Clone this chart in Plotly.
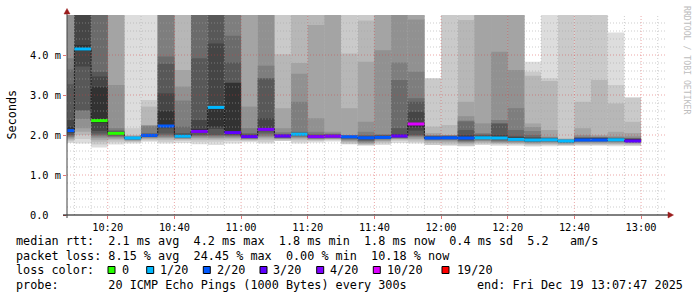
import plotly.graph_objects as go
from datetime import datetime, timedelta

DAY = "2025-12-19"
# end time of each 5-minute step (bar covers the 5 minutes before it)
col_end = ["10:10", "10:15", "10:20", "10:25", "10:30", "10:35", "10:40", "10:45", "10:50",
           "10:55", "11:00", "11:05", "11:10", "11:15", "11:20", "11:25", "11:30", "11:35",
           "11:40", "11:45", "11:50", "11:55", "12:00", "12:05", "12:10", "12:15", "12:20",
           "12:25", "12:30", "12:35", "12:40", "12:45", "12:50", "12:55", "13:00"]

# median rtt (ms) per step
median = [2.11, 4.15, 2.36, 2.04, 1.925, 1.99, 2.225, 1.97, 2.09, 2.69, 2.06, 1.96, 2.14,
          1.975, 2.02, 1.96, 1.97, 1.955, 1.93, 1.94, 1.975, 2.275, 1.925, 1.93, 1.925,
          1.93, 1.925, 1.89, 1.875, 1.88, 1.85, 1.875, 1.875, 1.88, 1.85]

# lost pings (out of 20) per step
loss = [2, 1, 0, 0, 1, 2, 2, 1, 4, 1, 3, 3, 4, 3, 1, 4, 4, 2, 2, 2, 3, 10, 2, 2, 2,
        1, 1, 1, 1, 1, 1, 2, 2, 1, 3]

# sorted ping times (ms) of each step, ping 1 .. ping 20 (None = lost)
r1010 = [1.80, 1.84, 1.87, 1.90, 1.93, 1.95, 1.98, 2.00, 2.05, 2.08, 2.20, 2.375, 3.27, 3.64, 3.92, 5.5, 5.5, 5.5, 5.5, 5.5]
r1015 = [1.79, 1.90, 2.00, 2.08, 2.17, 2.40, 2.60, 2.625, 3.71, 4.10, 4.25, 5.5, 5.5, 5.5, 5.5, 5.5, 5.5, 5.5, 5.5, 5.5]
r1020 = [1.69, 1.76, 1.83, 1.88, 1.93, 1.97, 2.00, 2.04, 2.10, 2.30, 3.20, 3.46, 3.58, 5.5, 5.5, 5.5, 5.5, 5.5, 5.5, 5.5]
r1025 = [1.76, 1.82, 1.87, 1.90, 1.93, 1.95, 1.97, 1.99, 2.00, 2.02, 2.05, 2.07, 2.09, 2.12, 2.17, 3.25, 5.5, 5.5, 5.5, 5.5]
r1030 = [1.79, 1.82, 1.84, 1.86, 1.87, 1.88, 1.89, 1.90, 1.91, 1.92, 1.93, 1.935, 1.94, 1.95, 1.96, 1.97, 1.98, 2.00, 2.17, 5.5]
r1035 = [1.83, 1.86, 1.89, 1.91, 1.93, 1.94, 1.95, 1.96, 1.97, 1.98, 2.00, 2.01, 2.02, 2.05, 2.22, 2.24, 2.25, 2.71, 2.875, 5.5]
r1040 = [1.79, 1.83, 1.88, 1.92, 1.94, 1.96, 2.00, 2.04, 2.17, 2.20, 2.60, 3.04, 3.78, 3.96, 5.5, 5.5, 5.5, 5.5, 5.5, 5.5]
r1045 = [1.80, 1.85, 1.88, 1.90, 1.91, 1.92, 1.93, 1.94, 1.95, 1.96, 2.00, 2.02, 2.05, 2.21, 2.86, 3.21, 3.625, 5.5, 5.5, 5.5]
r1050 = [1.77, 1.83, 1.88, 1.92, 1.94, 1.97, 1.99, 2.00, 2.05, 2.07, 2.15, 2.375, 3.92, 5.5, 5.5, 5.5, 5.5, 5.5, 5.5, 5.5]
r1055 = [1.75, 1.83, 1.88, 1.91, 1.93, 1.96, 1.99, 2.00, 2.15, 2.21, 2.72, 4.29, 5.5, 5.5, 5.5, 5.5, 5.5, 5.5, 5.5, 5.5]
r1100 = [1.79, 1.85, 1.89, 1.92, 1.94, 1.96, 1.98, 2.00, 2.02, 2.04, 3.30, 3.31, 3.81, 4.48, 5.5, 5.5, 5.5, 5.5, 5.5, 5.5]
r1105 = [1.82, 1.85, 1.87, 1.89, 1.90, 1.91, 1.92, 1.93, 1.94, 1.95, 1.98, 2.00, 2.02, 2.05, 2.17, 2.71, 5.5, 5.5, 5.5, 5.5]
r1110 = [1.79, 1.83, 1.88, 1.92, 1.95, 1.98, 2.02, 2.06, 2.10, 2.12, 2.17, 2.42, 3.41, 3.42, 3.73, 5.5, 5.5, 5.5, 5.5, 5.5]
r1115 = [None, 1.85, 1.88, 1.90, 1.91, 1.92, 1.93, 1.94, 1.95, 1.96, 1.99, 2.00, 2.01, 2.03, 2.07, 2.17, 2.67, 4.02, 5.5, None]
r1120 = [1.79, 1.84, 1.88, 1.91, 1.93, 1.95, 1.97, 1.99, 2.00, 2.01, 2.03, 2.04, 2.06, 2.08, 2.83, 3.53, 3.80, 5.5, 5.5, 5.5]
r1125 = [1.81, 1.85, 1.87, 1.89, 1.90, 1.91, 1.92, 1.93, 1.94, 1.95, 1.98, 1.99, 2.00, 2.03, 2.08, 2.42, 4.75, 5.5, 5.5, 5.5]
r1130 = [1.84, 1.87, 1.89, 1.90, 1.91, 1.92, 1.93, 1.94, 1.95, 1.96, 1.99, 2.00, 2.01, 2.02, 2.04, 2.08, 5.5, 5.5, 5.5, 5.5]
r1135 = [None, 1.77, 1.81, 1.84, 1.86, 1.88, 1.90, 1.92, 1.93, 1.94, 1.97, 1.975, 1.98, 1.985, 1.99, 2.00, 2.67, 4.04, 5.5, None]
r1140 = [None, 1.74, 1.76, 1.78, 1.80, 1.83, 1.85, 1.87, 1.90, 1.92, 1.95, 1.96, 1.98, 2.00, 2.08, 2.33, 3.83, 4.86, 5.5, None]
r1145 = [1.75, 1.79, 1.82, 1.85, 1.87, 1.89, 1.90, 1.91, 1.92, 1.93, 1.97, 1.98, 1.99, 2.00, 2.02, 4.12, 5.5, 5.5, 5.5, 5.5]
r1150 = [1.80, 1.85, 1.88, 1.90, 1.91, 1.92, 1.93, 1.94, 1.95, 1.96, 2.00, 2.02, 2.17, 3.375, 3.81, 5.5, 5.5, 5.5, 5.5, 5.5]
r1155 = [1.79, 1.82, 1.86, 1.90, 1.94, 1.96, 1.98, 2.00, 2.11, 2.20, 2.30, 2.58, 2.83, 2.92, 3.58, 4.89, 5.5, 5.5, 5.5, 5.5]
r1200 = [None, 1.75, 1.80, 1.84, 1.86, 1.88, 1.89, 1.90, 1.91, 1.92, 1.95, 1.96, 1.97, 1.98, 1.99, 2.00, 2.05, 2.21, 3.42, None]
r1205 = [None, 1.74, 1.79, 1.83, 1.86, 1.88, 1.89, 1.90, 1.91, 1.92, 1.95, 1.96, 1.97, 1.98, 1.99, 1.995, 2.00, 2.25, 5.5, None]
r1210 = [None, 1.72, 1.76, 1.79, 1.81, 1.83, 1.85, 1.87, 1.89, 1.91, 1.96, 2.00, 2.125, 2.34, 2.36, 2.47, 2.83, 4.875, 5.5, None]
r1215 = [1.75, 1.77, 1.80, 1.83, 1.85, 1.87, 1.89, 1.90, 1.91, 1.92, 1.95, 1.97, 2.00, 2.02, 2.05, 2.29, 5.5, 5.5, 5.5, 5.5]
r1220 = [1.73, 1.76, 1.78, 1.80, 1.82, 1.84, 1.86, 1.88, 1.90, 1.91, 1.96, 2.00, 2.28, 2.30, 2.375, 4.08, 5.5, 5.5, 5.5, 5.5]
r1225 = [1.73, 1.76, 1.78, 1.80, 1.82, 1.84, 1.85, 1.86, 1.87, 1.88, 1.93, 1.95, 1.98, 2.125, 2.67, 3.625, 5.5, 5.5, 5.5, 5.5]
r1230 = [1.71, 1.74, 1.76, 1.78, 1.80, 1.82, 1.83, 1.84, 1.85, 1.86, 1.90, 1.92, 1.95, 2.00, 2.10, 2.20, 2.29, 3.48, 3.58, 3.83]
r1235 = [1.72, 1.75, 1.77, 1.79, 1.81, 1.83, 1.84, 1.85, 1.86, 1.87, 1.90, 1.91, 1.92, 1.93, 1.94, 1.96, 2.125, 3.35, 3.42, 5.5]
r1240 = [None, 1.73, 1.75, 1.77, 1.79, 1.80, 1.81, 1.82, 1.83, 1.84, 1.865, 1.87, 1.875, 1.88, 1.885, 1.89, 1.90, 1.92, 5.5, None]
r1245 = [None, 1.74, 1.77, 1.79, 1.81, 1.83, 1.84, 1.85, 1.86, 1.865, 1.91, 1.92, 1.93, 1.94, 1.96, 2.00, 2.17, 2.83, 5.5, None]
r1250 = [None, 1.74, 1.77, 1.79, 1.81, 1.83, 1.84, 1.85, 1.86, 1.865, 1.91, 1.92, 1.93, 1.94, 1.95, 1.97, 2.00, 3.375, 5.5, None]
r1255 = [1.72, 1.75, 1.77, 1.79, 1.81, 1.83, 1.84, 1.85, 1.86, 1.87, 1.90, 1.91, 1.92, 1.93, 1.94, 1.97, 2.08, 2.79, 3.25, 4.56]
r1300 = [None, 1.73, 1.76, 1.78, 1.80, 1.81, 1.82, 1.83, 1.84, 1.845, 1.89, 1.90, 1.91, 1.92, 1.93, 1.97, 2.05, 2.33, 2.94, None]

pings = [r1010, r1015, r1020, r1025, r1030, r1035, r1040, r1045, r1050, r1055, r1100, r1105,
         r1110, r1115, r1120, r1125, r1130, r1135, r1140, r1145, r1150, r1155, r1200, r1205,
         r1210, r1215, r1220, r1225, r1230, r1235, r1240, r1245, r1250, r1255, r1300]

x_ticks = ["10:20", "10:40", "11:00", "11:20", "11:40", "12:00", "12:20", "12:40", "13:00"]
y_ticks = [0, 1, 2, 3, 4]
y_ticktext = ["0.0\u00a0\u00a0", "1.0 m", "2.0 m", "3.0 m", "4.0 m"]

loss_levels = [0, 1, 2, 3, 4, 10, 19]
loss_labels = ["0", "1/20", "2/20", "3/20", "4/20", "10/20", "19/20"]
loss_colors = ["#26ff00", "#00b8ff", "#0059ff", "#5e00ff", "#7e00ff", "#dd00ff", "#ff0000"]

stats_rtt = "median rtt:  2.1 ms avg  4.2 ms max  1.8 ms min  1.8 ms now  0.4 ms sd  5.2   am/s"
stats_loss = "packet loss: 8.15 % avg  24.45 % max  0.00 % min  10.18 % now"
probe_text = "probe:       20 ICMP Echo Pings (1000 Bytes) every 300s"
end_text = "end: Fri Dec 19 13:07:47 2025"

range_start = DAY + " 10:07:47"
range_end = DAY + " 13:07:47"

# ---------------------------------------------------------------------------
MONO = "DejaVu Sans Mono"
STEP = timedelta(minutes=5)
ends = [datetime.strptime(DAY + " " + t, "%Y-%m-%d %H:%M") for t in col_end]
starts = [e - STEP for e in ends]
centers = [e - STEP / 2 for e in ends]

L, T, W, H = 67, 15, 600, 200   # plot area in pixels


def xp(px):
    return (px - L) / W


def yp(py):
    return (T + H - py) / H


fig = go.Figure()

# smoke bands: band k spans ping k .. ping 21-k
for k in range(1, 11):
    g = int(190 / 10 * (10 - k)) + 50
    col = "#%02x%02x%02x" % (g, g, g)
    xs, bs, hs = [], [], []
    for c, p in zip(centers, pings):
        lo, hi = p[k - 1], p[20 - k]
        if lo is None or hi is None:
            continue
        xs.append(c)
        bs.append(lo)
        hs.append(hi - lo)
    fig.add_trace(go.Bar(x=xs, y=hs, base=bs, width=300000,
                         marker=dict(color=col, line=dict(width=0)),
                         hoverinfo="skip", showlegend=False))

# black median step line
fig.add_trace(go.Scatter(x=starts + [ends[-1]], y=median + [median[-1]], mode="lines",
                         line=dict(color="#202020", width=1, shape="hv"),
                         hoverinfo="skip", showlegend=False))

# loss-coloured median segments
for lv, lc in zip(loss_levels, loss_colors):
    xs, ys = [], []
    for s, e, m, l in zip(starts, ends, median, loss):
        if l == lv:
            xs += [s, e, None]
            ys += [m, m, None]
    if xs:
        fig.add_trace(go.Scatter(x=xs, y=ys, mode="lines",
                                 line=dict(color=lc, width=3),
                                 hoverinfo="skip", showlegend=False))

shapes = []
GRID = "rgba(165,165,165,0.55)"
MGRID = "rgba(215,60,60,0.45)"
# vertical grid every 5 minutes
t = datetime.strptime(DAY + " 10:10", "%Y-%m-%d %H:%M")
tend = datetime.strptime(range_end, "%Y-%m-%d %H:%M:%S")
while t < tend:
    major = t.minute % 20 == 0
    shapes.append(dict(type="line", xref="x", yref="paper", x0=t, x1=t, y0=0, y1=1,
                       layer="above",
                       line=dict(color=MGRID if major else GRID, width=1, dash="1px,2px")))
    t += STEP
# horizontal grid every 0.2 ms
for i in range(1, 25):
    v = i * 0.2
    major = i % 5 == 0
    shapes.append(dict(type="line", xref="paper", yref="y", x0=0, x1=1, y0=v, y1=v,
                       layer="above",
                       line=dict(color=MGRID if major else GRID, width=1, dash="1px,2px")))

# axes and arrows
shapes.append(dict(type="line", xref="paper", yref="paper", x0=xp(63), x1=xp(669),
                   y0=0, y1=0, layer="above", line=dict(color="#000000", width=1)))
shapes.append(dict(type="line", xref="paper", yref="paper", x0=0, x1=0,
                   y0=yp(218), y1=yp(13), layer="above", line=dict(color="#404040", width=1)))
ARROW = "#9b1c1c"
shapes.append(dict(type="path", xref="paper", yref="paper", layer="above",
                   path="M %f %f L %f %f L %f %f Z" % (xp(673.5), yp(215), xp(668), yp(212),
                                                       xp(668), yp(218)),
                   fillcolor=ARROW, line=dict(color=ARROW, width=0.5)))
shapes.append(dict(type="path", xref="paper", yref="paper", layer="above",
                   path="M %f %f L %f %f L %f %f Z" % (xp(67), yp(8.5), xp(64), yp(14),
                                                       xp(70), yp(14)),
                   fillcolor=ARROW, line=dict(color=ARROW, width=0.5)))

annotations = []


def ann(text, x, y, size=11.8, anchor="left", color="#000000", angle=0):
    annotations.append(dict(text=text.replace(" ", "\u00a0"), x=xp(x), y=yp(y),
                            xref="paper", yref="paper", xanchor=anchor, yanchor="middle",
                            showarrow=False, textangle=angle, borderpad=0, borderwidth=0,
                            font=dict(family=MONO, size=size, color=color)))


ann(stats_rtt, 16, 241)
ann(stats_loss, 16, 255.5)
ann("loss color:", 16, 270)
ann(probe_text, 16, 284.5)
ann(end_text, 682.5, 284.5, anchor="right")

box_x = [108, 146.7, 203.3, 260, 316.7, 373.3, 442]
text_x = [121.7, 160, 217, 273, 330, 387, 457.3]
for bx, tx, lab, lc in zip(box_x, text_x, loss_labels, loss_colors):
    shapes.append(dict(type="rect", xref="paper", yref="paper",
                       x0=xp(bx), x1=xp(bx + 7), y0=yp(266.5), y1=yp(273.5),
                       fillcolor=lc, line=dict(color="#000000", width=1)))
    ann(lab, tx, 270)

ann("Seconds", 11.5, 115, size=11.8, anchor="center", angle=-90)
ann("RRDTOOL / TOBI OETIKER", 687, 60, size=8.2, anchor="center", color="#bdbdbd", angle=90)

fig.update_layout(
    width=697, height=297,
    margin=dict(l=L, r=697 - L - W, t=T, b=297 - T - H),
    paper_bgcolor="#ffffff", plot_bgcolor="#ffffff",
    barmode="overlay", showlegend=False,
    shapes=shapes, annotations=annotations,
    xaxis=dict(type="date", range=[range_start, range_end], showgrid=False,
               zeroline=False, showline=False,
               tickmode="array", tickvals=[DAY + " " + t for t in x_ticks], ticktext=x_ticks,
               ticks="outside", ticklen=3, tickcolor="rgba(215,60,60,0.7)",
               tickfont=dict(family=MONO, size=10.3, color="#000000")),
    yaxis=dict(range=[0, 5.0], showgrid=False, zeroline=False, showline=False,
               tickmode="array", tickvals=y_ticks, ticktext=y_ticktext,
               ticks="outside", ticklen=3, tickcolor="rgba(215,60,60,0.7)",
               tickfont=dict(family=MONO, size=10.3, color="#000000")),
)

fig.write_html("out.html")
